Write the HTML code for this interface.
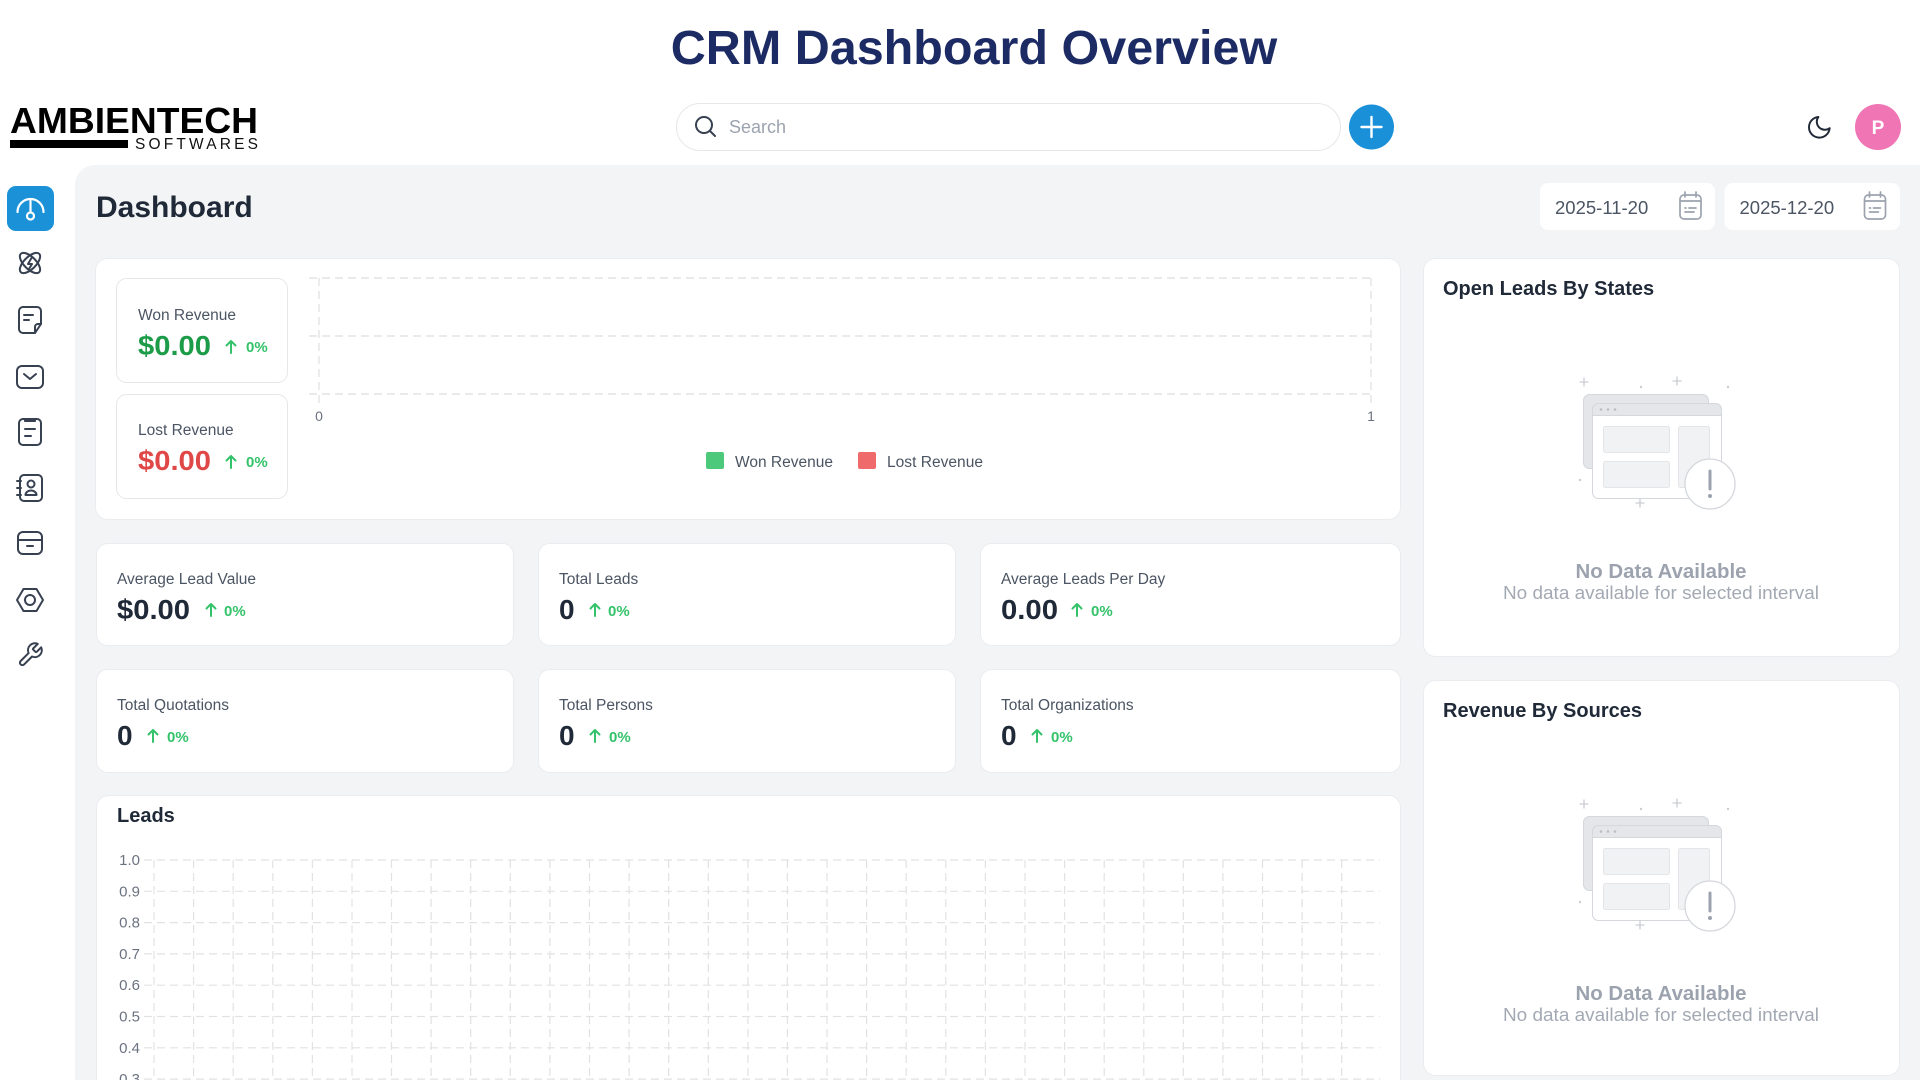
<!DOCTYPE html>
<html><head><meta charset="utf-8"><style>
html,body{margin:0;padding:0;background:#fff;width:1920px;height:1080px;overflow:hidden}
svg{display:block;font-family:"Liberation Sans",Arial,sans-serif}
</style></head><body>
<svg width="1920" height="1080" viewBox="0 0 1920 1080" xmlns="http://www.w3.org/2000/svg">
<rect width="1920" height="1080" fill="#ffffff"/>
<!-- title -->
<text x="974" y="64" text-anchor="middle" font-size="48.5" font-weight="bold" fill="#1c2b64">CRM Dashboard Overview</text>
<!-- logo -->
<text x="10" y="133" font-size="36" font-weight="bold" fill="#000" textLength="248" lengthAdjust="spacingAndGlyphs">AMBIENTECH</text>
<rect x="10" y="140" width="118" height="8" fill="#000"/>
<text x="135" y="149" font-size="15.5" fill="#111" textLength="123" lengthAdjust="spacing">SOFTWARES</text>
<!-- search -->
<rect x="676.5" y="103.5" width="664" height="47" rx="23.5" fill="#fff" stroke="#e5e7eb"/>
<circle cx="704" cy="125" r="8" fill="none" stroke="#374151" stroke-width="2"/>
<line x1="710" y1="131" x2="715" y2="136" stroke="#374151" stroke-width="2" stroke-linecap="round"/>
<text x="729" y="133" font-size="18" fill="#9ca3af">Search</text>
<!-- plus -->
<circle cx="1371.5" cy="127" r="22.5" fill="#1a90d9"/>
<path d="M1361.5,127H1381.5M1371.5,117V137" stroke="#fff" stroke-width="2.4" stroke-linecap="round"/>
<!-- moon -->
<g transform="translate(1805.5,113.5) scale(1.15)"><path d="M21 12.79A9 9 0 1 1 11.21 3 7 7 0 0 0 21 12.79z" fill="none" stroke="#1f2937" stroke-width="1.7" stroke-linejoin="round"/></g>
<!-- avatar -->
<circle cx="1878" cy="127" r="23" fill="#f075b4"/>
<text x="1878" y="134" text-anchor="middle" font-size="19" font-weight="bold" fill="#fff">P</text>

<!-- main grey area -->
<path d="M75,1080V185A20,20 0 0 1 95,165H1920V1080Z" fill="#f3f4f6"/>

<!-- sidebar -->
<rect x="7" y="186" width="47" height="45" rx="9" fill="#1b92d8"/>
<g fill="none" stroke="#fff" stroke-width="2.2" stroke-linecap="round">
<path d="M17.5,212A13,13 0 0 1 43.5,212"/>
<path d="M30.5,201V212"/>
<circle cx="30.5" cy="216" r="3.5"/>
</g>
<g fill="none" stroke="#374151" stroke-width="2" stroke-linecap="round" stroke-linejoin="round">
<!-- atom 263 -->
<ellipse cx="30" cy="263" rx="13" ry="6" transform="rotate(45 30 263)"/>
<ellipse cx="30" cy="263" rx="13" ry="6" transform="rotate(-45 30 263)"/>
<path d="M31.5,258L28,264H32L29,269"/>
<!-- note 320 -->
<path d="M23,307H37A4,4 0 0 1 41,311V324L35,333H23A4,4 0 0 1 19,329V311A4,4 0 0 1 23,307Z"/>
<path d="M41,324H38A3,3 0 0 0 35,327V333"/>
<path d="M24,315H33M24,320H29"/>
<!-- mail 377 -->
<rect x="17" y="366" width="26" height="22" rx="5"/>
<path d="M24,374L30,379L36,374"/>
<!-- clipboard 432 -->
<rect x="19" y="419" width="22" height="26" rx="4"/>
<path d="M25,419V421H35V419"/>
<path d="M25,429H35M25,436H31"/>
<!-- contact 488 -->
<rect x="20" y="475" width="22" height="26" rx="4"/>
<path d="M17,481H21M17,488H21M17,495H21"/>
<circle cx="31" cy="484" r="3.5"/>
<path d="M25.5,495A5.5,4.5 0 0 1 36.5,495Z"/>
<!-- archive 543 -->
<rect x="18" y="532" width="24" height="22" rx="5"/>
<path d="M18,540H42M27,546H33"/>
<!-- hexagon 600 -->
<path d="M17,600L23.5,589H36.5L43,600L36.5,611H23.5Z"/>
<circle cx="30" cy="600" r="5"/>
</g>
<g transform="translate(16.5,641) scale(1.15)"><path d="M14.7 6.3a1 1 0 0 0 0 1.4l1.6 1.6a1 1 0 0 0 1.4 0l3.77-3.77a6 6 0 0 1-7.94 7.94l-6.91 6.91a2.12 2.12 0 0 1-3-3l6.91-6.91a6 6 0 0 1 7.94-7.94l-3.76 3.76z" fill="none" stroke="#374151" stroke-width="1.75" stroke-linejoin="round"/></g>

<!-- Dashboard heading -->
<text x="96" y="217" font-size="30" font-weight="bold" fill="#1f2937">Dashboard</text>

<!-- date boxes -->
<rect x="1540" y="183" width="175" height="47" rx="8" fill="#fff"/>
<rect x="1724.5" y="183" width="175.5" height="47" rx="8" fill="#fff"/>
<text x="1555" y="214" font-size="18.5" fill="#4b5563">2025-11-20</text>
<text x="1739.5" y="214" font-size="18.5" fill="#4b5563">2025-12-20</text>
<g fill="none" stroke="#9ca3af" stroke-width="1.7" stroke-linecap="round">
<rect x="1680" y="195" width="21" height="24" rx="4"/>
<path d="M1685,192V197M1696,192V197M1680,201H1701M1685,208H1686M1689,208H1696M1685,212H1694"/>
<rect x="1864.5" y="195" width="21" height="24" rx="4"/>
<path d="M1869.5,192V197M1880.5,192V197M1864.5,201H1885.5M1869.5,208H1870.5M1873.5,208H1880.5M1869.5,212H1878.5"/>
</g>

<!-- revenue card -->
<rect x="95.5" y="258.5" width="1305" height="261" rx="12" fill="#fff" stroke="#eaecef"/>
<rect x="116.5" y="278.5" width="171" height="104" rx="10" fill="#fff" stroke="#e5e7eb"/>
<rect x="116.5" y="394.5" width="171" height="104" rx="10" fill="#fff" stroke="#e5e7eb"/>
<text x="138" y="320" font-size="15.5" fill="#4b5563">Won Revenue</text>
<text x="138" y="355" font-size="28" font-weight="bold" fill="#1c9b48" textLength="73" lengthAdjust="spacingAndGlyphs">$0.00</text>
<text x="138" y="435" font-size="15.5" fill="#4b5563">Lost Revenue</text>
<text x="138" y="470" font-size="28" font-weight="bold" fill="#e04848" textLength="73" lengthAdjust="spacingAndGlyphs">$0.00</text>
<g fill="none" stroke="#34c26a" stroke-width="2" stroke-linecap="round" stroke-linejoin="round">
<path d="M231,341V353M226.5,345.5L231,341L235.5,345.5"/>
<path d="M231,456V468M226.5,460.5L231,456L235.5,460.5"/>
</g>
<text x="246" y="352" font-size="15" font-weight="bold" fill="#34c26a">0%</text>
<text x="246" y="467" font-size="15" font-weight="bold" fill="#34c26a">0%</text>
<!-- revenue chart -->
<g stroke="#dedede" stroke-width="1.2" stroke-dasharray="8 5" fill="none">
<path d="M309,278H1371M309,336H1371M309,394H1371"/>
<path d="M319,278V403M1371,278V403"/>
</g>
<text x="319" y="421" text-anchor="middle" font-size="14" fill="#6b7280">0</text>
<text x="1371" y="421" text-anchor="middle" font-size="14" fill="#6b7280">1</text>
<rect x="706" y="452" width="18" height="17" rx="2" fill="#4cc97a"/>
<text x="735" y="467" font-size="15.5" fill="#4b5563" textLength="98" lengthAdjust="spacingAndGlyphs">Won Revenue</text>
<rect x="858" y="452" width="18" height="17" rx="2" fill="#ef6a6a"/>
<text x="887" y="467" font-size="15.5" fill="#4b5563" textLength="96" lengthAdjust="spacingAndGlyphs">Lost Revenue</text>

<!-- stat cards -->
<g fill="#fff" stroke="#eaecef">
<rect x="96.5" y="543.5" width="417" height="102" rx="11"/>
<rect x="538.5" y="543.5" width="417" height="102" rx="11"/>
<rect x="980.5" y="543.5" width="420" height="102" rx="11"/>
<rect x="96.5" y="669.5" width="417" height="103" rx="11"/>
<rect x="538.5" y="669.5" width="417" height="103" rx="11"/>
<rect x="980.5" y="669.5" width="420" height="103" rx="11"/>
</g>
<g font-size="15.5" fill="#4b5563">
<text x="117" y="584">Average Lead Value</text>
<text x="559" y="584">Total Leads</text>
<text x="1001" y="584">Average Leads Per Day</text>
<text x="117" y="710">Total Quotations</text>
<text x="559" y="710">Total Persons</text>
<text x="1001" y="710">Total Organizations</text>
</g>
<g font-size="28" font-weight="bold" fill="#1f2937">
<text x="117" y="619" textLength="73" lengthAdjust="spacingAndGlyphs">$0.00</text>
<text x="559" y="619">0</text>
<text x="1001" y="619" textLength="57" lengthAdjust="spacingAndGlyphs">0.00</text>
<text x="117" y="745">0</text>
<text x="559" y="745">0</text>
<text x="1001" y="745">0</text>
</g>
<g fill="none" stroke="#34c26a" stroke-width="2" stroke-linecap="round" stroke-linejoin="round">
<path d="M211,604V616M206.5,608.5L211,604L215.5,608.5"/>
<path d="M595,604V616M590.5,608.5L595,604L599.5,608.5"/>
<path d="M1077,604V616M1072.5,608.5L1077,604L1081.5,608.5"/>
<path d="M153,730V742M148.5,734.5L153,730L157.5,734.5"/>
<path d="M595,730V742M590.5,734.5L595,730L599.5,734.5"/>
<path d="M1037,730V742M1032.5,734.5L1037,730L1041.5,734.5"/>
</g>
<g font-size="15" font-weight="bold" fill="#34c26a">
<text x="224" y="616">0%</text>
<text x="608" y="616">0%</text>
<text x="1091" y="616">0%</text>
<text x="167" y="742">0%</text>
<text x="609" y="742">0%</text>
<text x="1051" y="742">0%</text>
</g>

<!-- leads card -->
<rect x="96.5" y="795.5" width="1304" height="320" rx="12" fill="#fff" stroke="#eaecef"/>
<text x="117" y="822" font-size="20" font-weight="bold" fill="#1f2937">Leads</text>
<g stroke="#e2e2e2" stroke-width="1.2" stroke-dasharray="8 5" fill="none">
<path d="M144,860H1380M144,891.3H1380M144,922.6H1380M144,953.9H1380M144,985.2H1380M144,1016.5H1380M144,1047.8H1380M144,1079.1H1380"/>
<path d="M154,860V1080M193.6,860V1080M233.2,860V1080M272.8,860V1080M312.4,860V1080M352,860V1080M391.5,860V1080M431.1,860V1080M470.7,860V1080M510.3,860V1080M549.9,860V1080M589.5,860V1080M629.1,860V1080M668.7,860V1080M708.3,860V1080M747.9,860V1080M787.4,860V1080M827,860V1080M866.6,860V1080M906.2,860V1080M945.8,860V1080M985.4,860V1080M1025,860V1080M1064.6,860V1080M1104.2,860V1080M1143.8,860V1080M1183.3,860V1080M1222.9,860V1080M1262.5,860V1080M1302.1,860V1080M1341.7,860V1080"/>
</g>
<g font-size="15" fill="#6b7280" text-anchor="end">
<text x="140" y="865">1.0</text>
<text x="140" y="896.3">0.9</text>
<text x="140" y="927.6">0.8</text>
<text x="140" y="958.9">0.7</text>
<text x="140" y="990.2">0.6</text>
<text x="140" y="1021.5">0.5</text>
<text x="140" y="1052.8">0.4</text>
<text x="140" y="1084.1">0.3</text>
</g>

<!-- right cards -->
<rect x="1423.5" y="258.5" width="476" height="398" rx="12" fill="#fff" stroke="#eaecef"/>
<rect x="1423.5" y="680.5" width="476" height="395" rx="12" fill="#fff" stroke="#eaecef"/>
<text x="1443" y="295" font-size="20" font-weight="bold" fill="#1f2937">Open Leads By States</text>
<text x="1443" y="717" font-size="20" font-weight="bold" fill="#1f2937">Revenue By Sources</text>

<g id="ill">
<g fill="none" stroke="#c9cdd3" stroke-width="1.3" stroke-linecap="round">
<path d="M1584,378V386M1580,382H1588M1677,377V385M1673,381H1681M1640,499V507M1636,503H1644"/>
</g>
<g fill="#c9cdd3"><circle cx="1641" cy="387" r="1.2"/><circle cx="1728" cy="387" r="1.2"/><circle cx="1580" cy="480" r="1.2"/></g>
<rect x="1583.5" y="394.5" width="125" height="74" rx="6" fill="#e4e6ea" stroke="#d4d7dc"/>
<rect x="1592.5" y="403.5" width="129" height="95" rx="6" fill="#fff" stroke="#d4d7dc"/>
<path d="M1592.5,415.5V409.5A6,6 0 0 1 1598.5,403.5H1715.5A6,6 0 0 1 1721.5,409.5V415.5Z" fill="#e4e6ea" stroke="#d4d7dc"/>
<g fill="#b9bdc4"><circle cx="1601" cy="409.5" r="1.3"/><circle cx="1608" cy="409.5" r="1.3"/><circle cx="1615" cy="409.5" r="1.3"/></g>
<g fill="#f1f2f4" stroke="#e3e5e8">
<rect x="1603.5" y="426.5" width="66" height="26" rx="2"/>
<rect x="1603.5" y="461.5" width="66" height="26" rx="2"/>
<rect x="1678.5" y="426.5" width="31" height="61" rx="2"/>
</g>
<circle cx="1710" cy="484" r="25" fill="#fff" stroke="#d4d7dc" stroke-width="1.3"/>
<path d="M1710,471V489" stroke="#9ca3af" stroke-width="3" stroke-linecap="round"/>
<circle cx="1710" cy="496" r="2" fill="#9ca3af"/>
</g>
<text x="1661" y="578" text-anchor="middle" font-size="20" font-weight="bold" fill="#9ca3af" textLength="171" lengthAdjust="spacingAndGlyphs">No Data Available</text>
<text x="1661" y="599" text-anchor="middle" font-size="18" fill="#a3a9b3" textLength="316" lengthAdjust="spacingAndGlyphs">No data available for selected interval</text>
<use href="#ill" transform="translate(0,422)"/>
<text x="1661" y="1000" text-anchor="middle" font-size="20" font-weight="bold" fill="#9ca3af" textLength="171" lengthAdjust="spacingAndGlyphs">No Data Available</text>
<text x="1661" y="1021" text-anchor="middle" font-size="18" fill="#a3a9b3" textLength="316" lengthAdjust="spacingAndGlyphs">No data available for selected interval</text>
</svg>
</body></html>
